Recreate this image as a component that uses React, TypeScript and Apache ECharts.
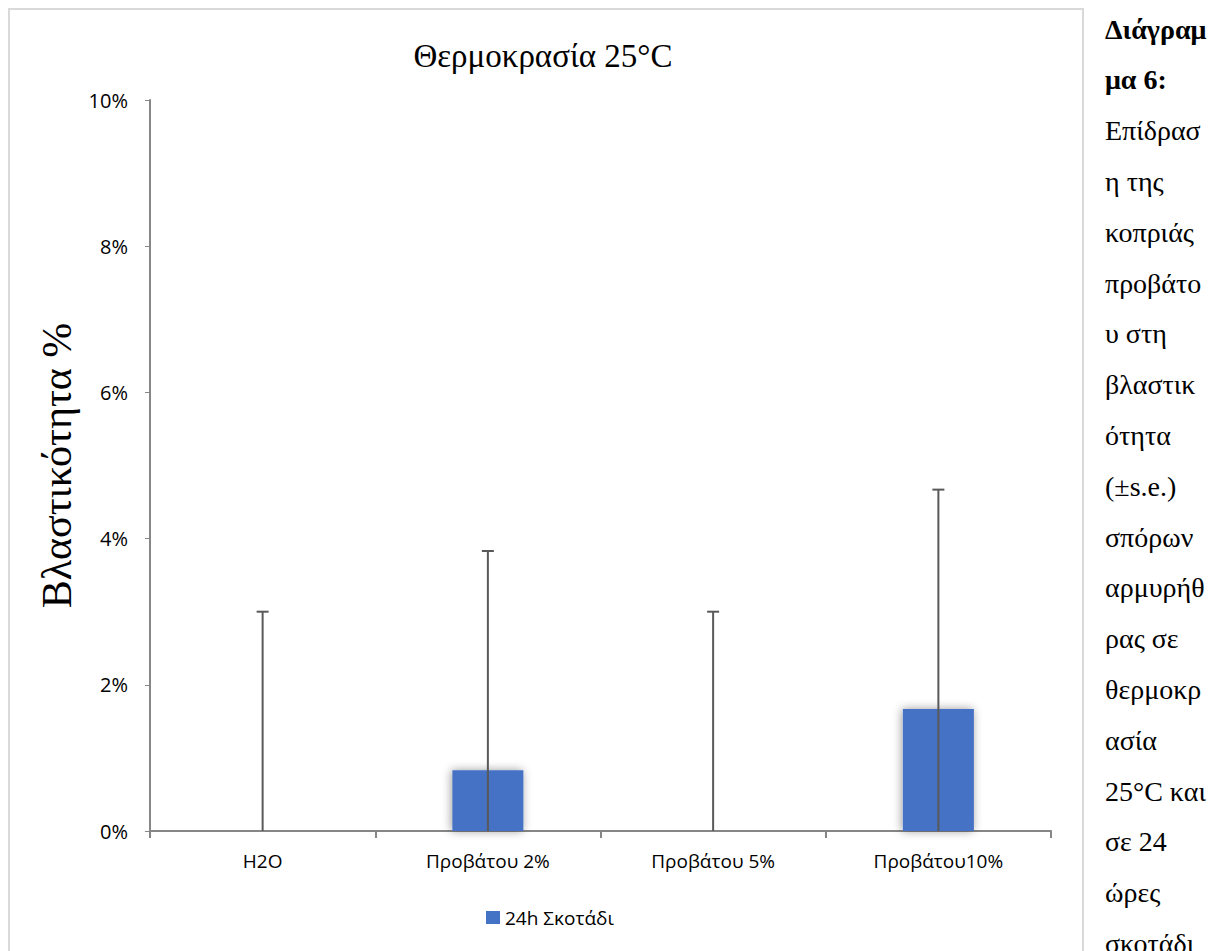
import React, { useEffect, useRef } from "react";
import * as echarts from "echarts";

// Germination data (percent) for each treatment
const categories = ["H2O", "Προβάτου 2%", "Προβάτου 5%", "Προβάτου10%"];
const germination = [0, 0.83, 0, 1.67];
const standardError = [3, 3, 3, 3];
const yTicks = { min: 0, max: 10, interval: 2 };
const seriesName = "24h Σκοτάδι";
const chartTitle = "Θερμοκρασία 25°C";
const yAxisName = "Βλαστικότητα %";

// Caption column beside the chart, wrapped as in the document
const captionBold = ["Διάγραμ", "μα 6:"];
const captionLines = [
  "Επίδρασ",
  "η της",
  "κοπριάς",
  "προβάτο",
  "υ στη",
  "βλαστικ",
  "ότητα",
  "(±s.e.)",
  "σπόρων",
  "αρμυρήθ",
  "ρας σε",
  "θερμοκρ",
  "ασία",
  "25°C και",
  "σε 24",
  "ώρες",
  "σκοτάδι",
];

const SANS = "Open Sans";
const SERIF = "Liberation Serif";

export default function App() {
  const ref = useRef<HTMLDivElement>(null);

  useEffect(() => {
    if (!ref.current) return;
    const chart = echarts.init(ref.current, undefined, { renderer: "svg" });

    const allLines = [...captionBold, ...captionLines];
    const captionGraphics = allLines.map((line, i) => ({
      type: "text",
      x: 1105,
      y: 29 + i * 50.8,
      style: {
        text: line,
        fontFamily: SERIF,
        fontSize: 28,
        fontWeight: i < captionBold.length ? "bold" : "normal",
        fill: "#000",
        verticalAlign: "middle",
      },
    }));

    const errorData = germination.map((v, i) => [i, v, standardError[i]]);

    chart.setOption({
      animation: false,
      backgroundColor: "#fff",
      title: {
        text: chartTitle,
        left: 538,
        top: 34,
        textAlign: "center",
        textStyle: {
          fontFamily: SERIF,
          fontSize: 33,
          fontWeight: "normal",
          color: "#000",
        },
      },
      grid: { left: 150, right: 165, top: 100, bottom: 120, containLabel: false },
      legend: {
        left: 481,
        top: 903,
        itemWidth: 14,
        itemHeight: 13,
        itemGap: 10,
        textStyle: { fontFamily: SANS, fontSize: 19, color: "#000" },
        data: [{ name: seriesName, icon: "rect" }],
      },
      xAxis: {
        type: "category",
        data: categories,
        boundaryGap: true,
        axisLine: { lineStyle: { color: "#868686", width: 2 } },
        axisTick: { show: true, length: 7, alignWithLabel: false, lineStyle: { color: "#868686", width: 2 } },
        axisLabel: { fontFamily: SANS, fontSize: 19, color: "#000", margin: 20 },
        splitLine: { show: false },
      },
      yAxis: {
        type: "value",
        min: yTicks.min,
        max: yTicks.max,
        interval: yTicks.interval,
        name: yAxisName,
        nameLocation: "middle",
        nameRotate: 90,
        nameGap: 70,
        nameTextStyle: { fontFamily: SERIF, fontSize: 42, color: "#000" },
        axisLine: { show: true, lineStyle: { color: "#868686", width: 2 } },
        axisTick: { show: true, length: 5, lineStyle: { color: "#868686", width: 1 } },
        axisLabel: { fontFamily: SANS, fontSize: 20, color: "#000", margin: 22, formatter: "{value}%" },
        splitLine: { show: false },
      },
      graphic: [
        {
          type: "rect",
          shape: { x: 9, y: 9, width: 1074, height: 1000 },
          style: { fill: "none", stroke: "#d9d9d9", lineWidth: 2 },
          silent: true,
          z: -1,
        },
        ...captionGraphics,
      ],
      series: [
        {
          name: seriesName,
          type: "bar",
          data: germination,
          barWidth: 71,
          itemStyle: {
            color: "#4472C4",
            shadowBlur: 10,
            shadowColor: "rgba(0,0,0,0.4)",
            shadowOffsetX: -1,
            shadowOffsetY: 0,
          },
        },
        {
          name: "s.e.",
          type: "custom",
          data: errorData,
          z: 5,
          renderItem: (params: any, api: any) => {
            const x = api.value(0);
            const v = api.value(1);
            const e = api.value(2);
            const top = api.coord([x, v + e]);
            const low = api.coord([x, Math.max(yTicks.min, v - e)]);
            const half = 6;
            const children: any[] = [
              {
                type: "line",
                shape: { x1: top[0], y1: top[1], x2: low[0], y2: low[1] },
                style: { stroke: "#595959", lineWidth: 2 },
              },
              {
                type: "line",
                shape: { x1: top[0] - half, y1: top[1], x2: top[0] + half, y2: top[1] },
                style: { stroke: "#595959", lineWidth: 2 },
              },
            ];
            if (v - e >= yTicks.min) {
              children.push({
                type: "line",
                shape: { x1: low[0] - half, y1: low[1], x2: low[0] + half, y2: low[1] },
                style: { stroke: "#595959", lineWidth: 2 },
              });
            }
            return { type: "group", children };
          },
        },
      ],
    });

    return () => chart.dispose();
  }, []);

  return (
    <div
      ref={ref}
      style={{ position: "fixed", left: 0, top: 0, width: 1216, height: 951 }}
    />
  );
}
